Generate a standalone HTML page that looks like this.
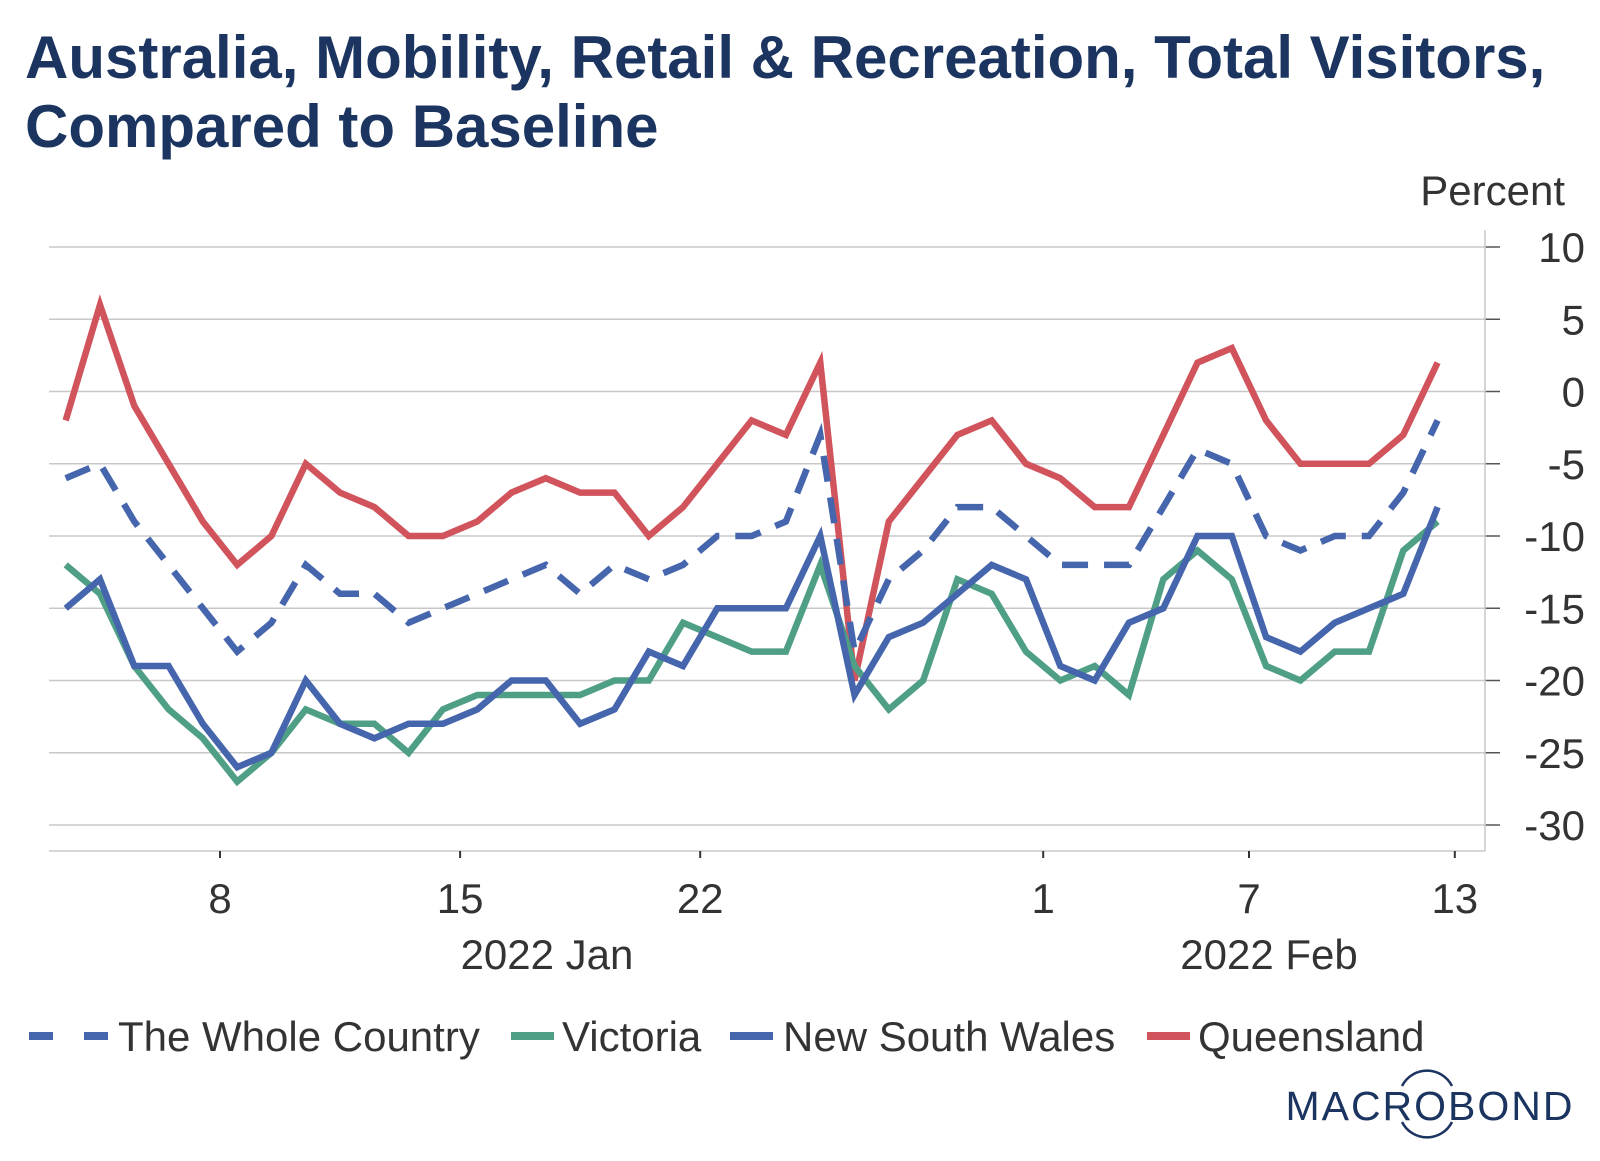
<!DOCTYPE html>
<html><head><meta charset="utf-8"><style>
body{margin:0;background:#fff;}
svg text{font-family:"Liberation Sans",Arial,sans-serif;}
</style></head><body>
<svg width="1600" height="1156" viewBox="0 0 1600 1156" xmlns="http://www.w3.org/2000/svg">
<text x="25" y="78" font-size="60" font-weight="bold" fill="#1b3560">Australia, Mobility, Retail &amp; Recreation, Total Visitors,</text>
<text x="25" y="147" font-size="60" font-weight="bold" fill="#1b3560">Compared to Baseline</text>
<text x="1565" y="205" font-size="42" fill="#333" text-anchor="end">Percent</text>
<g id="grid"></g>
<g id="series"></g>
<g id="legend"></g>
<text x="1430" y="1120" font-size="41" fill="#1b3560" text-anchor="middle" letter-spacing="2">MACROBOND</text>
<path d="M1402 1086 A28 28 0 0 1 1452 1086 M1402 1122 A28 28 0 0 0 1452 1122" stroke="#1b3560" stroke-width="2.5" fill="none"/>
</svg>
<script>
const yTicks=[10,5,0,-5,-10,-15,-20,-25,-30];
const xTickDays=[8,15,22,32,38,44];
const xTickLabels=["8","15","22","1","7","13"];
const monthLabels=["2022 Jan","2022 Feb"];
const seriesNames=["The Whole Country","Victoria","New South Wales","Queensland"];
const wholeCountry=[-6,-5,-9,-12,-15,-18,-16,-12,-14,-14,-16,-15,-14,-13,-12,-14,-12,-13,-12,-10,-10,-9,-3,-18,-13,-11,-8,-8,-10,-12,-12,-12,-8,-4,-5,-10,-11,-10,-10,-7,-2];
const victoria=[-12,-14,-19,-22,-24,-27,-25,-22,-23,-23,-25,-22,-21,-21,-21,-21,-20,-20,-16,-17,-18,-18,-12,-19,-22,-20,-13,-14,-18,-20,-19,-21,-13,-11,-13,-19,-20,-18,-18,-11,-9];
const nsw=[-15,-13,-19,-19,-23,-26,-25,-20,-23,-24,-23,-23,-22,-20,-20,-23,-22,-18,-19,-15,-15,-15,-10,-21,-17,-16,-14,-12,-13,-19,-20,-16,-15,-10,-10,-17,-18,-16,-15,-14,-8];
const queensland=[-2,6,-1,-5,-9,-12,-10,-5,-7,-8,-10,-10,-9,-7,-6,-7,-7,-10,-8,-5,-2,-3,2,-20,-9,-6,-3,-2,-5,-6,-8,-8,-3,2,3,-2,-5,-5,-5,-3,2];
const firstDay=3.5;
const NS="http://www.w3.org/2000/svg";
const X=d=>220+(d-8)*34.3;
const Y=v=>247+(10-v)*14.45;
function mk(tag,attrs,parent){const e=document.createElementNS(NS,tag);for(const k in attrs)e.setAttribute(k,attrs[k]);parent.appendChild(e);return e;}
const grid=document.getElementById('grid');
yTicks.forEach(v=>{
  const l=mk('line',{x1:49,x2:1485,y1:Y(v),y2:Y(v),stroke:'#c8c8c8','stroke-width':1.5},grid);
  
  
  const t=mk('line',{x1:1485,x2:1500,y1:Y(v),y2:Y(v),stroke:'#555','stroke-width':1.5},grid);
  
  
  const tx=mk('text',{x:1585,y:Y(v)+15,'font-size':42,fill:'#333','text-anchor':'end'},grid);
  tx.textContent=String(v);
  
  
});
const ax=mk('line',{x1:49,x2:1485,y1:851,y2:851,stroke:'#c8c8c8','stroke-width':1.5},grid);


const ay=mk('line',{x1:1485,x2:1485,y1:230,y2:851,stroke:'#c8c8c8','stroke-width':1.5},grid);


xTickDays.forEach((d,i)=>{
  const t=mk('line',{x1:X(d),x2:X(d),y1:851,y2:858,stroke:'#333','stroke-width':2},grid);
  
  
  const tx=mk('text',{x:X(d),y:913,'font-size':42,fill:'#333','text-anchor':'middle'},grid);
  tx.textContent=xTickLabels[i];
  
  
});
[[547,monthLabels[0]],[1269,monthLabels[1]]].forEach(m=>{
  const tx=mk('text',{x:m[0],y:969,'font-size':42,fill:'#333','text-anchor':'middle'},grid);
  tx.textContent=m[1];
  
  
});
const sg=document.getElementById('series');
const styles=[
  {data:wholeCountry,color:'#4565ad',dash:'26 16',name:'whole-country-line'},
  {data:victoria,color:'#4f9f86',dash:'',name:'victoria-line'},
  {data:nsw,color:'#4565ad',dash:'',name:'nsw-line'},
  {data:queensland,color:'#d1545c',dash:'',name:'queensland-line'}];
[3,0,1,2].forEach(i=>{
  const s=styles[i];
  const pts=s.data.map((v,k)=>X(firstDay+k).toFixed(1)+','+Y(v).toFixed(1)).join(' ');
  const p=mk('polyline',{points:pts,fill:'none',stroke:s.color,'stroke-width':6.5,'stroke-linejoin':'miter','stroke-dasharray':s.dash},sg);
  
  
});
const lg=document.getElementById('legend');
const lx=[29,511,730,1147];
const lw=[79,43,43,43];
const tx0=[118,562,783,1198];
styles.forEach((s,i)=>{
  const l=mk('line',{x1:lx[i],x2:lx[i]+lw[i],y1:1036,y2:1036,stroke:s.color,'stroke-width':8,'stroke-dasharray':s.dash?'24 31':''},lg);
  
  
  const t=mk('text',{x:tx0[i],y:1051,'font-size':42,fill:'#333'},lg);
  t.textContent=seriesNames[i];
  
  
});
</script>
</body></html>
